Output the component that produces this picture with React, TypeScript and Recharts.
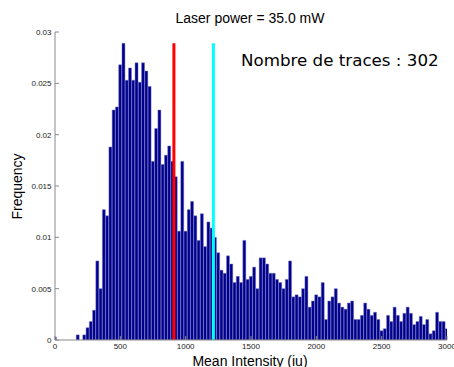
import React from 'react';
import { BarChart, Bar, XAxis, YAxis, ReferenceLine } from 'recharts';

const binCenters = [
  0, 25, 50, 75, 100, 125, 150, 175, 200, 225, 250, 275, 300, 325, 350, 375, 400, 425, 450, 475,
  500, 525, 550, 575, 600, 625, 650, 675, 700, 725, 750, 775, 800, 825, 850, 875, 900, 925, 950, 975,
  1000, 1025, 1050, 1075, 1100, 1125, 1150, 1175, 1200, 1225, 1250, 1275, 1300, 1325, 1350, 1375, 1400, 1425, 1450, 1475,
  1500, 1525, 1550, 1575, 1600, 1625, 1650, 1675, 1700, 1725, 1750, 1775, 1800, 1825, 1850, 1875, 1900, 1925, 1950, 1975,
  2000, 2025, 2050, 2075, 2100, 2125, 2150, 2175, 2200, 2225, 2250, 2275, 2300, 2325, 2350, 2375, 2400, 2425, 2450, 2475,
  2500, 2525, 2550, 2575, 2600, 2625, 2650, 2675, 2700, 2725, 2750, 2775, 2800, 2825, 2850, 2875, 2900, 2925, 2950, 2975,
  3000,
];

const frequencies = [
  0.0003, 0, 0, 0, 0, 0, 0, 0.0005, 0, 0.0005,
  0.0012, 0.0018, 0.0029, 0.0077, 0.0050, 0.0127, 0.0121, 0.0188, 0.0224, 0.0227,
  0.0268, 0.0289, 0.0253, 0.0265, 0.0253, 0.0270, 0.0251, 0.0270, 0.0262, 0.0247,
  0.0174, 0.0206, 0.0224, 0.0171, 0.0180, 0.0189, 0.0174, 0.0159, 0.0106, 0.0174,
  0.0106, 0.0127, 0.0135, 0.0121, 0.0097, 0.0123, 0.0091, 0.0115, 0.0109, 0.0100,
  0.0085, 0.0068, 0.0065, 0.0082, 0.0074, 0.0056, 0.0062, 0.0056, 0.0097, 0.0059,
  0.0062, 0.0071, 0.0050, 0.0080, 0.0080, 0.0074, 0.0065, 0.0065, 0.0059, 0.0056,
  0.0050, 0.0059, 0.0077, 0.0042, 0.0044, 0.0042, 0.0050, 0.0062, 0.0032, 0.0038,
  0.0044, 0.0042, 0.0056, 0.0020, 0.0038, 0.0042, 0.0050, 0.0036, 0.0032, 0.0030,
  0.0036, 0.0038, 0.0020, 0.0020, 0.0024, 0.0036, 0.0030, 0.0024, 0.0027, 0.0020,
  0.0009, 0.0011, 0.0024, 0.0018, 0.0032, 0.0024, 0.0018, 0.0026, 0.0032, 0.0026,
  0.0015, 0.0018, 0.0023, 0.0015, 0.0020, 0.0006, 0.0009, 0.0027, 0.0018, 0.0018,
  0.0011,
];

const xTicks = [0, 500, 1000, 1500, 2000, 2500, 3000];
const yTicks = [0, 0.005, 0.01, 0.015, 0.02, 0.025, 0.03];

const redLineX = 910;
const cyanLineX = 1212;

const titleText = 'Laser power = 35.0 mW';
const xLabelText = 'Mean Intensity (iu)';
const yLabelText = 'Frequency';
const annotationText = 'Nombre de traces : 302';

const data = binCenters.map((c, i) => ({ center: c, freq: frequencies[i] }));
const lineTop = Math.max(...frequencies);

const axisColor = '#8a8a8a';
const tickStyle = { fontSize: 8, fill: '#1a1a1a', fontFamily: 'Liberation Sans, Arial, sans-serif' };
const blank = () => '';

export default function App() {
  return (
    <div style={{ position: 'absolute', left: 0, top: 0, width: 454, height: 367, background: '#fff' }}>
      <BarChart
        width={454}
        height={367}
        data={data}
        margin={{ top: 32, right: 7, bottom: 0, left: 0 }}
        barCategoryGap={0}
        barGap={0}
      >
        <XAxis
          dataKey="center"
          type="number"
          domain={[0, 3000]}
          ticks={xTicks}
          allowDataOverflow
          interval={0}
          height={27}
          tickSize={-4}
          tickMargin={7.5}
          tick={tickStyle}
          axisLine={{ stroke: axisColor }}
          tickLine={{ stroke: axisColor }}
        />
        <XAxis
          xAxisId="top"
          orientation="top"
          dataKey="center"
          type="number"
          domain={[0, 3000]}
          ticks={xTicks}
          allowDataOverflow
          interval={0}
          height={0}
          tickSize={-4}
          tickFormatter={blank}
          axisLine={{ stroke: axisColor }}
          tickLine={{ stroke: axisColor }}
        />
        <YAxis
          type="number"
          domain={[0, 0.03]}
          ticks={yTicks}
          allowDataOverflow
          interval={0}
          width={55}
          tickSize={-4}
          tickMargin={7.5}
          tick={tickStyle}
          axisLine={{ stroke: axisColor }}
          tickLine={{ stroke: axisColor }}
        />
        <YAxis
          yAxisId="right"
          orientation="right"
          type="number"
          domain={[0, 0.03]}
          ticks={yTicks}
          allowDataOverflow
          interval={0}
          width={0}
          tickSize={-4}
          tickFormatter={blank}
          axisLine={{ stroke: axisColor }}
          tickLine={{ stroke: axisColor }}
        />
        <Bar
          dataKey="freq"
          fill="#00008c"
          stroke="#7a7ac4"
          strokeWidth={0.45}
          isAnimationActive={false}
        />
        <ReferenceLine
          segment={[{ x: redLineX, y: 0 }, { x: redLineX, y: lineTop }]}
          stroke="#ff0000"
          strokeWidth={3}
        />
        <ReferenceLine
          segment={[{ x: cyanLineX, y: 0 }, { x: cyanLineX, y: lineTop }]}
          stroke="#00ffff"
          strokeWidth={3}
        />
        <text x={250} y={22.5} textAnchor="middle" fontSize={14} fontFamily="Liberation Sans, Arial, sans-serif" fill="#000">
          {titleText}
        </text>
        <text x={241} y={66} fontSize={16.7} fontFamily="DejaVu Sans, sans-serif" fill="#000">
          {annotationText}
        </text>
        <text x={250} y={366} textAnchor="middle" fontSize={14} fontFamily="Liberation Sans, Arial, sans-serif" fill="#000">
          {xLabelText}
        </text>
        <text
          x={22}
          y={186.5}
          textAnchor="middle"
          fontSize={14}
          fontFamily="Liberation Sans, Arial, sans-serif"
          fill="#000"
          transform="rotate(-90 22 186.5)"
        >
          {yLabelText}
        </text>
      </BarChart>
    </div>
  );
}
